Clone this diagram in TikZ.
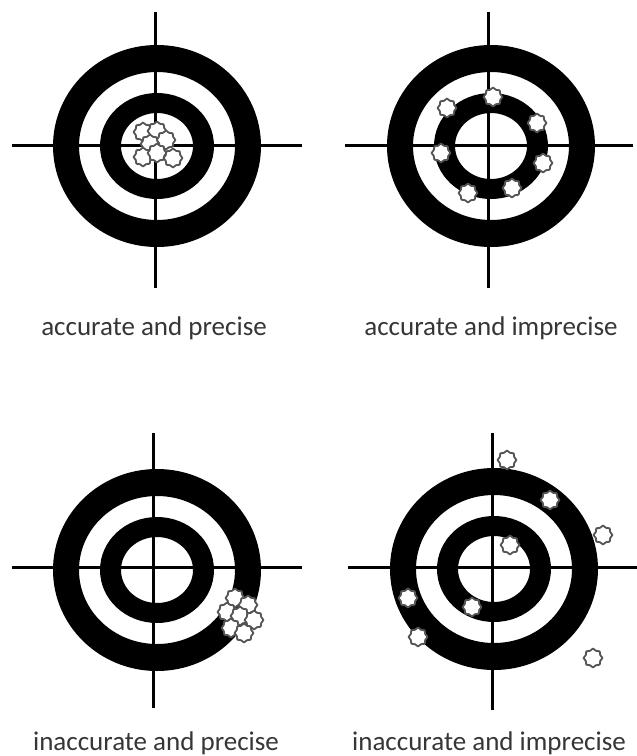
\documentclass[tikz,border=0pt]{standalone}
\usepackage{fontspec}
\setmainfont{Carlito}
\usetikzlibrary{shapes.geometric}
\definecolor{holeline}{HTML}{555555}
\definecolor{labeltext}{HTML}{363636}
\tikzset{
  hole/.style={star, star points=8, star point ratio=1.22, minimum size=19pt, inner sep=0pt,
    draw=holeline, line width=1.8pt, line join=round, fill=white},
  cross/.style={line width=3pt, black},
  caption/.style={anchor=base, text=labeltext, font=\fontsize{27}{32}\selectfont, inner sep=0pt}
}
\begin{document}
\begin{tikzpicture}[x=1pt,y=-1pt]
\useasboundingbox[fill=white] (0,0) rectangle (637,756);

% targets: centres
\coordinate (tl) at (157,146);
\coordinate (tr) at (491,146);
\coordinate (bl) at (157,570);
\coordinate (br) at (494,569);

\foreach \c in {tl,tr,bl,br}{
  \fill[black, even odd rule] (\c) ellipse [x radius=104, y radius=101]
     (\c) ellipse [x radius=78, y radius=74]
     (\c) ellipse [x radius=57, y radius=53]
     (\c) ellipse [x radius=36, y radius=33];
}

% crosshairs
\coordinate (tlL) at (12,145);  \coordinate (tlR) at (302,145);
\coordinate (tlT) at (155,12);  \coordinate (tlB) at (155,288);
\coordinate (trL) at (345,145); \coordinate (trR) at (633,145);
\coordinate (trT) at (488,12);  \coordinate (trB) at (488,288);
\coordinate (blL) at (12,567);  \coordinate (blR) at (302,567);
\coordinate (blT) at (153,433); \coordinate (blB) at (153,708);
\coordinate (brL) at (348,567); \coordinate (brR) at (637,567);
\coordinate (brT) at (492,433); \coordinate (brB) at (492,710);
\foreach \c in {tl,tr,bl,br}{
  \draw[cross] (\c L) -- (\c R);
  \draw[cross] (\c T) -- (\c B);
}

% holes: accurate and precise
\node[hole] (h1) at (143,132) {};
\node[hole] (h2) at (157,131) {};
\node[hole] (h3) at (166,140) {};
\node[hole] (h4) at (150,144) {};
\node[hole] (h5) at (143,157) {};
\node[hole] (h6) at (157,153) {};
\node[hole] (h7) at (173,158) {};

% holes: accurate and imprecise
\node[hole] (i1) at (493,97) {};
\node[hole] (i2) at (447,108) {};
\node[hole] (i3) at (537,123) {};
\node[hole] (i4) at (441,153) {};
\node[hole] (i5) at (543,163) {};
\node[hole] (i6) at (468,193) {};
\node[hole] (i7) at (512,188) {};

% holes: inaccurate and precise
\node[hole] (j1) at (235,598) {};
\node[hole] (j2) at (248,605) {};
\node[hole] (j3) at (227,612) {};
\node[hole] (j4) at (240,616) {};
\node[hole] (j5) at (254,620) {};
\node[hole] (j6) at (231,628) {};
\node[hole] (j7) at (244,633) {};

% holes: inaccurate and imprecise
\node[hole] (k1) at (507,460) {};
\node[hole] (k2) at (550,500) {};
\node[hole] (k3) at (603,535) {};
\node[hole] (k4) at (510,545) {};
\node[hole] (k5) at (408,598) {};
\node[hole] (k6) at (472,607) {};
\node[hole] (k7) at (418,637) {};
\node[hole] (k8) at (593,658) {};

% labels
\node[caption] (l1) at (154,335) {accurate and precise};
\node[caption] (l2) at (491,335) {accurate and imprecise};
\node[caption] (l3) at (156,750) {inaccurate and precise};
\node[caption] (l4) at (489,750) {inaccurate and imprecise};
\end{tikzpicture}
\end{document}
